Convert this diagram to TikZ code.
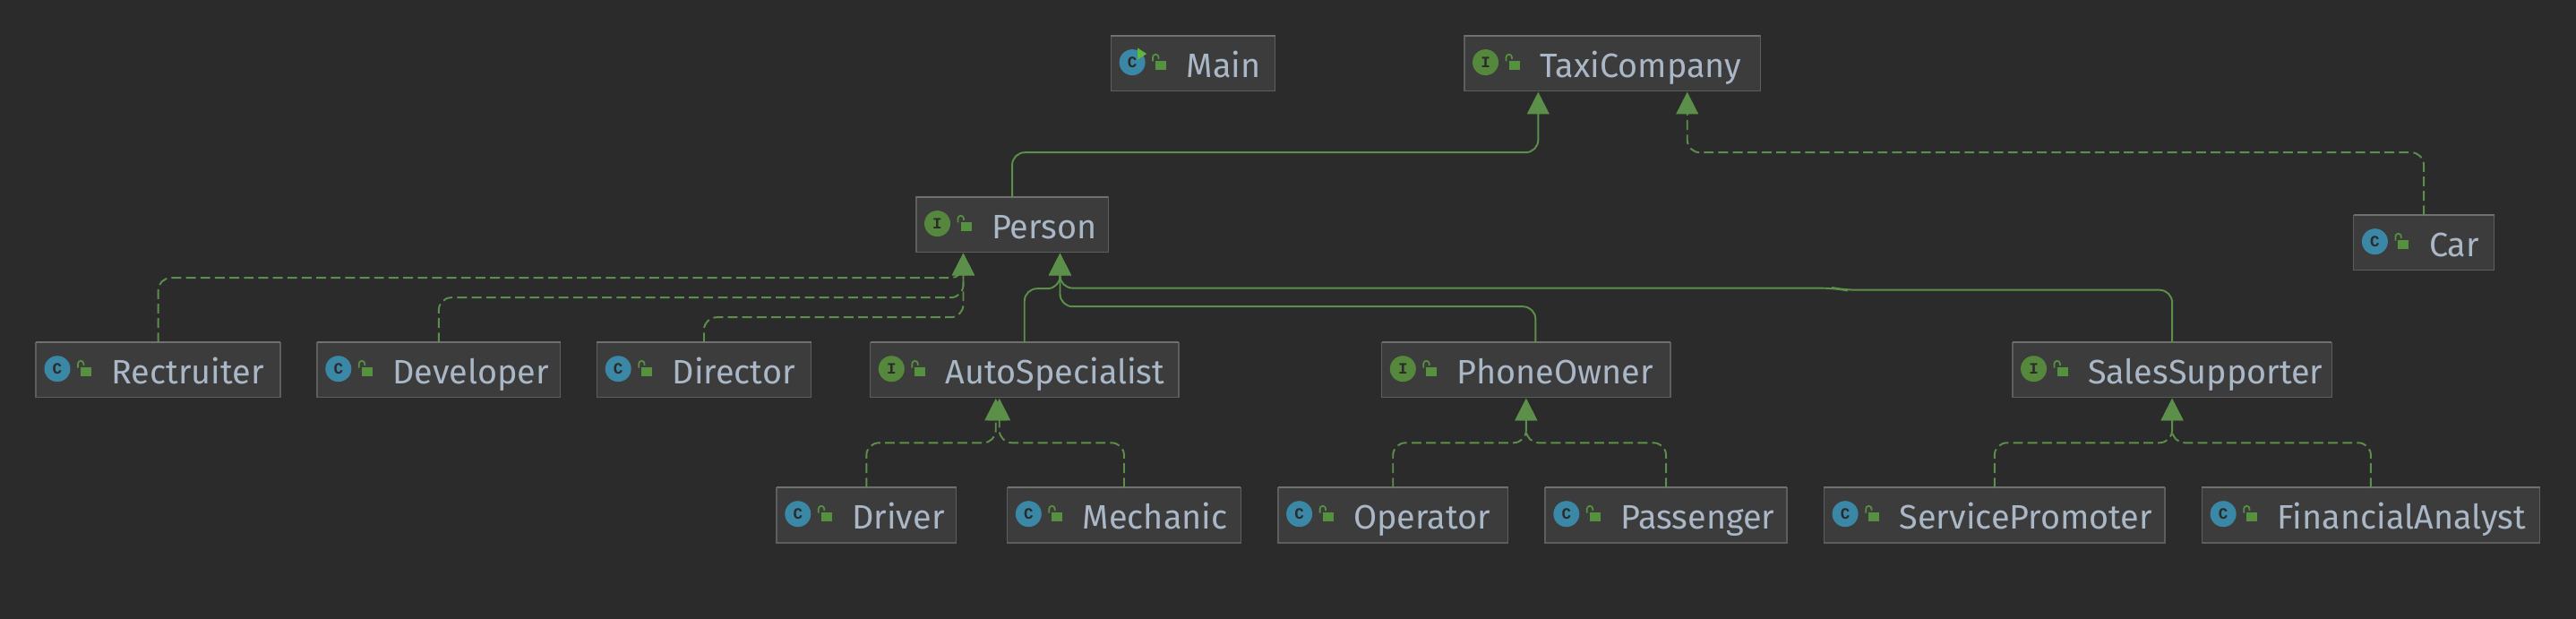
\documentclass[tikz,border=0pt]{standalone}
\usepackage{fontspec}
\setmainfont{Fira Sans}
\setmonofont{Liberation Mono}
\usetikzlibrary{arrows.meta}

\definecolor{bgdark}{HTML}{2B2B2B}
\definecolor{boxfill}{HTML}{3C3C3C}
\definecolor{boxline}{HTML}{5E5E5E}
\definecolor{boxtop}{HTML}{707070}
\definecolor{nametext}{HTML}{A9B7C6}
\definecolor{linegreen}{HTML}{5C8F4A}
\definecolor{lockgreen}{HTML}{56913F}
\definecolor{classblue}{HTML}{3B87A6}
\definecolor{ifacegreen}{HTML}{55873C}
\definecolor{playgreen}{HTML}{5FB83A}

\tikzset{
    classbox/.style={draw=boxline, fill=boxfill, line width=0.45pt, minimum height=0.614cm, inner sep=0pt, outer sep=0pt},
    classname/.style={anchor=base west, inner sep=0pt, text=nametext, font=\fontsize{10.75}{12}\selectfont},
    iconC/.style={circle, fill=classblue, minimum size=0.29cm, inner sep=0pt, text=bgdark, font=\ttfamily\bfseries\fontsize{5}{5}\selectfont},
    iconI/.style={circle, fill=ifacegreen, minimum size=0.29cm, inner sep=0pt, text=bgdark, font=\ttfamily\bfseries\fontsize{5}{5}\selectfont},
    extends/.style={draw=linegreen, line width=0.55pt, rounded corners=4pt, shorten >=0.3pt, -{Triangle[length=7pt, width=7pt, fill=linegreen]}},
    implements/.style={extends, dash pattern=on 3.1pt off 1.5pt},
}

\begin{document}
\begin{tikzpicture}
    \useasboundingbox (0,0) rectangle (28.76,-6.9);
    \fill[bgdark] (-0.05,0.05) rectangle (28.81,-6.95);

    % name/kind/left/right/centre
    \foreach \name/\kind/\xa/\xb/\yc in {
        Main/C/12.403/14.235/-0.709, TaxiCompany/I/16.347/19.653/-0.709,
        Person/I/10.227/12.374/-2.509, Car/C/26.276/27.845/-2.710,
        Rectruiter/C/0.402/3.130/-4.130, Developer/C/3.540/6.256/-4.130,
        Director/C/6.664/9.056/-4.130, AutoSpecialist/I/9.715/13.160/-4.130,
        PhoneOwner/I/15.425/18.652/-4.130, SalesSupporter/I/22.467/26.034/-4.130,
        Driver/C/8.670/10.676/-5.750, Mechanic/C/11.245/13.854/-5.750,
        Operator/C/14.268/16.836/-5.750, Passenger/C/17.250/19.952/-5.750,
        ServicePromoter/C/20.363/24.172/-5.750, FinancialAnalyst/C/24.583/28.355/-5.750}
    {
        \node[classbox, minimum width={(\xb-\xa)*1cm}] (\name) at ({(\xa+\xb)/2},\yc) {};
        \draw[boxtop, line width=0.5pt] (\name.north west) -- (\name.north east);
        \node[icon\kind] (\name-icon) at ([xshift=0.238cm, yshift=0.013cm]\name.west) {\kind};
        \fill[lockgreen] ([xshift=0.498cm, yshift=0.03cm]\name.west) rectangle ++(0.12,-0.10);
        \draw[lockgreen, line width=0.5pt] ([xshift=0.468cm, yshift=0.025cm]\name.west) -- ++(0,0.045) arc (180:0:0.032) -- ++(0,-0.02);
        \node[classname] (\name-text) at ([xshift=0.837cm, yshift=-0.157cm]\name.west) {\name};
    }
    \fill[playgreen] ([xshift=0.06cm, yshift=0.16cm]Main-icon.center) -- ++(0,-0.13) -- ++(0.10,0.065) -- cycle;

    \coordinate (taxiLeft) at ([xshift=-0.827cm]TaxiCompany.south);
    \coordinate (taxiRight) at ([xshift=0.837cm]TaxiCompany.south);
    \coordinate (personLeft) at ([xshift=-0.546cm]Person.south);
    \coordinate (personRight) at ([xshift=0.534cm]Person.south);
    \coordinate (autoLeft) at ([xshift=-0.32cm]AutoSpecialist.south);
    \coordinate (autoRight) at ([xshift=-0.28cm]AutoSpecialist.south);

    \draw[extends] (Person.north) |- ([yshift=-0.686cm]taxiLeft) -- (taxiLeft);
    \draw[implements] (Car.north) |- ([yshift=-0.686cm]taxiRight) -- (taxiRight);

    \draw[implements] (Rectruiter.north) |- ([yshift=-0.286cm]personLeft) -- (personLeft);
    \draw[implements] (Developer.north) |- ([yshift=-0.506cm]personLeft) -- (personLeft);
    \draw[implements] (Director.north) |- ([yshift=-0.726cm]personLeft) -- (personLeft);

    \draw[extends] (AutoSpecialist.north) |- ([yshift=-0.406cm]personRight) -- (personRight);
    \draw[extends] ([xshift=0.105cm]PhoneOwner.north) |- ([yshift=-0.606cm]personRight) -- (personRight);
    \draw[extends] (SalesSupporter.north) |- (20.59,-3.237) -- (20.49,-3.217) -- ([yshift=-0.40cm]personRight) -- (personRight);

    \draw[implements] (Driver.north) |- ([yshift=-0.506cm]autoLeft) -- (autoLeft);
    \draw[implements] (Mechanic.north) |- ([yshift=-0.506cm]autoRight) -- (autoRight);
    \draw[implements] (Operator.north) |- ([yshift=-0.506cm]PhoneOwner.south) -- (PhoneOwner.south);
    \draw[implements] (Passenger.north) |- ([yshift=-0.506cm]PhoneOwner.south) -- (PhoneOwner.south);
    \draw[implements] (ServicePromoter.north) |- ([yshift=-0.506cm]SalesSupporter.south) -- (SalesSupporter.south);
    \draw[implements] (FinancialAnalyst.north) |- ([yshift=-0.506cm]SalesSupporter.south) -- (SalesSupporter.south);
\end{tikzpicture}
\end{document}
